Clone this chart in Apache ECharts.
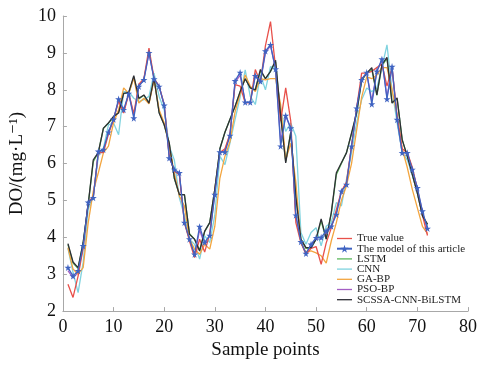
<!DOCTYPE html>
<html>
<head>
<meta charset="utf-8">
<script src="https://cdn.jsdelivr.net/npm/echarts@6/dist/echarts.min.js"></script>
<style>html,body{margin:0;padding:0;background:#fff}#c{width:480px;height:365px}</style>
</head>
<body>
<div id="c"></div>
<script>
var seriesNames = ['True value', 'The model of this article', 'LSTM', 'CNN', 'GA-BP', 'PSO-BP', 'SCSSA-CNN-BiLSTM'];
var xTicks = [0, 10, 20, 30, 40, 50, 60, 70, 80];
var yTicks = [2, 3, 4, 5, 6, 7, 8, 9, 10];

var trueValue = [2.73,2.37,2.95,3.7,4.95,5.1,6.3,6.3,6.8,7.2,7.7,7.37,7.9,7.35,8.15,8.3,9.13,8.3,8.1,7.6,6.2,5.8,5.7,4.4,3.9,3.45,3.95,3.6,4.1,5.3,6.3,6.4,6.8,8.14,8.1,7.65,7.65,8.55,8.2,9.2,9.85,8.6,7.15,8.05,7.15,4.4,3.85,3.54,3.7,3.75,3.27,3.85,4.25,4.75,5.25,5.5,6.47,7.5,8.45,8.45,8.5,8.6,8.7,8.1,8.6,7.3,6.4,6.3,5.9,5.3,4.6,4.05];
var modelValue = [3.18,2.95,3.09,3.77,4.95,5.07,6.33,6.38,6.85,7.2,7.75,7.46,7.9,7.23,8.09,8.27,9.0,8.29,8.09,7.58,6.15,5.84,5.75,4.4,3.95,3.54,4.29,3.86,4.05,5.16,6.31,6.31,6.76,8.24,8.47,7.66,7.66,8.38,8.23,9.05,9.22,8.56,6.47,7.3,6.96,4.6,3.88,3.56,3.81,3.99,4.0,4.17,4.3,4.62,5.25,5.43,6.47,7.5,8.27,8.47,7.61,8.5,8.83,7.75,8.63,7.19,6.29,6.29,5.84,5.34,4.71,4.24];
var lstmValue = [3.8,3.3,3.15,3.85,4.9,6.05,6.3,6.95,7.1,7.25,7.4,7.9,7.9,8.35,7.75,7.85,7.65,8.3,7.4,7.05,6.55,5.6,5.15,5.15,4.1,3.95,3.65,4.15,4.4,5.3,6.4,6.85,7.2,7.55,7.95,8.3,8.05,8.0,8.5,8.3,8.5,8.75,7.3,6.05,6.85,5.1,3.95,3.7,3.7,3.95,4.45,3.95,4.65,5.7,6.0,6.3,6.8,7.35,8.25,8.45,8.55,7.85,8.65,8.85,7.65,7.75,6.65,6.2,5.7,5.2,4.6,4.35];
var cnnValue = [3.7,3.05,2.5,3.32,4.76,5.12,6.2,6.42,7.05,7.1,6.78,7.95,7.95,7.77,7.68,7.73,7.82,8.45,7.82,7.46,6.47,6.1,5.07,4.58,3.95,3.81,3.41,4.04,3.86,4.6,6.2,5.97,6.56,7.2,7.8,8.54,7.82,7.6,8.4,8.0,8.63,8.59,7.46,6.87,7.1,6.74,4.13,3.81,4.13,4.26,3.77,4.3,4.4,4.94,4.85,5.57,6.29,7.1,7.73,8.05,7.95,8.05,8.6,9.22,8.0,7.1,6.3,6.1,5.7,5.2,4.6,4.3];
var gabpValue = [3.72,3.14,3.0,3.18,4.4,5.25,5.75,6.29,6.47,7.1,7.46,8.05,7.9,8.32,7.64,7.77,7.62,8.27,7.46,7.1,6.47,5.75,5.12,4.85,3.95,3.68,3.54,3.81,3.68,4.3,5.6,6.2,6.6,7.4,7.9,8.4,8.1,7.95,8.3,8.27,8.3,8.3,7.6,6.1,6.55,5.5,3.85,3.6,3.63,3.58,3.5,3.3,3.9,4.4,5.0,5.4,6.0,6.9,7.8,8.35,8.3,8.4,8.6,8.6,8.0,7.3,6.4,5.9,5.3,4.8,4.3,4.1];
var psobpValue = [3.1,2.9,3.05,3.75,4.95,5.1,6.3,6.35,6.85,7.2,7.7,7.4,7.9,7.3,8.1,8.3,9.0,8.3,8.1,7.6,6.2,5.8,5.7,4.4,3.95,3.5,4.2,3.8,4.05,5.2,6.3,6.35,6.8,8.2,8.4,7.65,7.65,8.4,8.2,9.0,9.2,8.55,6.6,7.3,6.95,4.6,3.9,3.55,3.8,3.95,3.95,4.1,4.3,4.65,5.25,5.45,6.45,7.5,8.3,8.45,7.7,8.5,8.8,7.8,8.6,7.2,6.3,6.3,5.85,5.3,4.7,4.2];
var scssaValue = [3.83,3.33,3.18,3.86,4.9,6.1,6.3,6.96,7.1,7.28,7.37,7.9,7.93,8.38,7.77,7.86,7.64,8.32,7.37,7.05,6.56,5.61,5.16,5.16,4.08,3.95,3.63,4.17,4.4,5.3,6.4,6.85,7.2,7.55,7.95,8.3,8.05,8.0,8.55,8.3,8.5,8.8,7.3,6.02,6.85,5.1,3.95,3.72,3.72,3.95,4.5,3.95,4.67,5.75,6.02,6.29,6.83,7.37,8.27,8.45,8.6,7.86,8.68,8.88,7.64,7.78,6.65,6.2,5.7,5.2,4.58,4.35];

var allValues = [trueValue, modelValue, lstmValue, cnnValue, gabpValue, psobpValue, scssaValue];
var colors = ['#e8504a', '#3f63c2', '#5cb85c', '#7fd3df', '#f3a53f', '#a45ec4', '#2e2e36'];
var zs = [4, 6, 1, 3, 3, 2, 5];
var star = 'path://M50,0 L61,35 L98,35 L68,57 L79,91 L50,70 L21,91 L32,57 L2,35 L39,35 Z';
var lineIcon = 'path://M0,0 M0,10 M0,4.35 L15,4.35 L15,5.65 L0,5.65 Z';

function pairs(arr) {
  return arr.map(function (v, i) { return [i + 1, v]; });
}

var series = seriesNames.map(function (name, k) {
  var isModel = k === 1;
  return {
    name: name,
    type: 'line',
    data: pairs(allValues[k]),
    z: zs[k],
    symbol: isModel ? star : 'none',
    symbolSize: 7,
    showSymbol: isModel,
    lineStyle: { width: 1.3, color: colors[k] },
    itemStyle: { color: colors[k] },
    animation: false
  };
});

var legendData = seriesNames.map(function (name, k) {
  return k === 1 ? { name: name } : { name: name, icon: lineIcon };
});

var serif = "'Times New Roman', 'Liberation Serif', 'DejaVu Serif', serif";
var axisGrey = '#a8a8a8';

var chart = echarts.init(document.getElementById('c'), null, { renderer: 'canvas' });
chart.setOption({
  animation: false,
  color: colors,
  grid: { left: 55, right: 8.3, top: 16, bottom: 53, containLabel: false },
  legend: {
    orient: 'vertical',
    left: 331,
    top: 228,
    itemWidth: 15,
    itemHeight: 10,
    itemGap: -0.8,
    data: legendData,
    textStyle: { fontFamily: serif, fontSize: 11, color: '#222', lineHeight: 10 }
  },
  xAxis: {
    type: 'value',
    min: xTicks[0],
    max: xTicks[xTicks.length - 1],
    interval: 10,
    name: 'Sample points',
    nameLocation: 'middle',
    nameGap: 25,
    nameTextStyle: { fontFamily: serif, fontSize: 19, color: '#111' },
    axisLine: { show: true, lineStyle: { color: axisGrey, width: 1 } },
    axisTick: { show: true, inside: true, length: 4, lineStyle: { color: axisGrey } },
    axisLabel: { margin: 7, fontFamily: serif, fontSize: 18, color: '#111' },
    splitLine: { show: false }
  },
  yAxis: {
    type: 'value',
    min: yTicks[0],
    max: yTicks[yTicks.length - 1],
    interval: 1,
    name: 'DO/(mg·L⁻¹)',
    nameLocation: 'middle',
    nameGap: 26,
    nameTextStyle: { fontFamily: serif, fontSize: 19, color: '#111' },
    axisLine: { show: true, lineStyle: { color: axisGrey, width: 1 } },
    axisTick: { show: true, inside: true, length: 4, lineStyle: { color: axisGrey } },
    axisLabel: { margin: 7, fontFamily: serif, fontSize: 18, color: '#111' },
    splitLine: { show: false }
  },
  series: series
});
</script>
</body>
</html>
